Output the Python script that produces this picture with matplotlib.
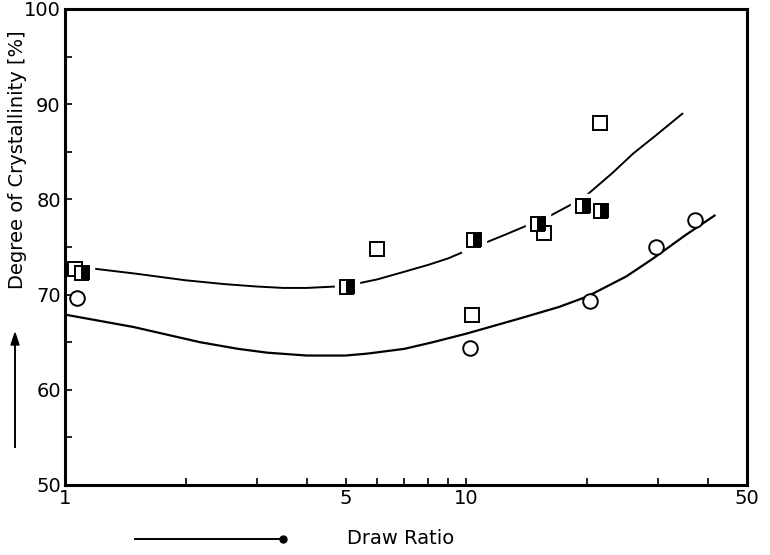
import numpy as np
import matplotlib
matplotlib.use("Agg")
import matplotlib.pyplot as plt
from matplotlib.ticker import FixedLocator, NullFormatter

# open squares
sq_open_x = [1.06, 6.0, 10.35, 15.6, 21.5]
sq_open_y = [72.7, 74.8, 67.9, 76.5, 88.0]
# half filled squares
sq_half_x = [1.10, 5.05, 10.45, 15.1, 19.5, 21.7]
sq_half_y = [72.3, 70.8, 75.7, 77.4, 79.3, 78.8]
# open circles
circ_x = [1.07, 10.2, 20.3, 29.6, 37.0]
circ_y = [69.6, 64.4, 69.3, 75.0, 77.8]

# curves
up_x = [1.14, 1.5, 2.0, 2.5, 3.0, 3.5, 4.0, 5.0, 6.0, 7.0, 8.0, 9.0, 10.5, 12.5, 15.0, 16.2, 18.5, 20.0, 23.0, 26.0, 30.0, 34.5]
up_y = [72.8, 72.2, 71.5, 71.1, 70.85, 70.7, 70.7, 70.9, 71.6, 72.4, 73.1, 73.8, 75.0, 76.3, 77.7, 78.3, 79.6, 80.5, 82.7, 84.8, 86.9, 89.0]
lo_x = [1.0, 1.48, 2.17, 2.7, 3.19, 4.0, 5.0, 5.66, 7.0, 8.25, 10.0, 13.6, 17.0, 20.0, 25.0, 29.2, 35.0, 41.5]
lo_y = [67.9, 66.6, 65.0, 64.3, 63.9, 63.6, 63.6, 63.8, 64.3, 65.0, 65.9, 67.5, 68.7, 69.8, 71.9, 73.8, 76.2, 78.3]

fig = plt.figure(figsize=(7.7, 5.55), dpi=100)
ax = fig.add_axes([65/770, 1-485/555, 682/770, 476/555])

ax.plot(up_x, up_y, color="black", lw=1.4, zorder=2)
ax.plot(lo_x, lo_y, color="black", lw=1.6, zorder=2)

# white halo so the upper line breaks at the markers
ax.plot(sq_half_x, sq_half_y, ls="none", marker="s", ms=17, mfc="white", mec="white", zorder=3)
ax.plot(sq_open_x, sq_open_y, ls="none", marker="s", ms=10, mfc="white", mec="black", mew=1.4, zorder=4)
ax.plot(sq_half_x, sq_half_y, ls="none", marker="s", ms=10, fillstyle="right",
        mfc="black", mfcalt="white", mec="black", mew=1.4, zorder=5)
ax.plot(circ_x, circ_y, ls="none", marker="o", ms=10.5, mfc="white", mec="black", mew=1.4, zorder=4)

ax.set_xscale("log")
ax.set_xlim(1, 50)
ax.set_ylim(50, 100)
ax.xaxis.set_major_locator(FixedLocator([1, 5, 10, 50]))
ax.xaxis.set_minor_locator(FixedLocator([2, 3, 4, 6, 7, 8, 9, 20, 30, 40]))
ax.xaxis.set_minor_formatter(NullFormatter())
ax.set_xticklabels(["1", "5", "10", "50"])
ax.set_yticks([50, 60, 70, 80, 90, 100])
ax.set_yticks([55, 65, 75, 85, 95], minor=True)

ax.tick_params(which="both", direction="in", length=5, width=1.2, labelsize=14, pad=3)
for s in ax.spines.values():
    s.set_linewidth(2.2)

fig.text(18/770, 1-160/555, "Degree of Crystallinity [%]", rotation=90,
         ha="center", va="center", fontsize=14)
fig.text(401/770, 1-539/555, "Draw Ratio", ha="center", va="center", fontsize=14)

# arrows under the labels
fig.add_artist(plt.Line2D([15/770, 15/770], [1-447/555, 1-340/555], color="black", lw=1.4))
fig.patches.append(plt.Polygon([[11/770, 1-345/555], [19/770, 1-345/555], [15/770, 1-333/555]],
                               closed=True, color="black", transform=fig.transFigure, figure=fig))
fig.add_artist(plt.Line2D([135/770, 283/770], [1-539/555, 1-539/555], color="black", lw=1.4))
fig.add_artist(plt.Line2D([283/770], [1-539/555], marker="o", ms=5, color="black"))

plt.savefig("out.png", dpi=100)
